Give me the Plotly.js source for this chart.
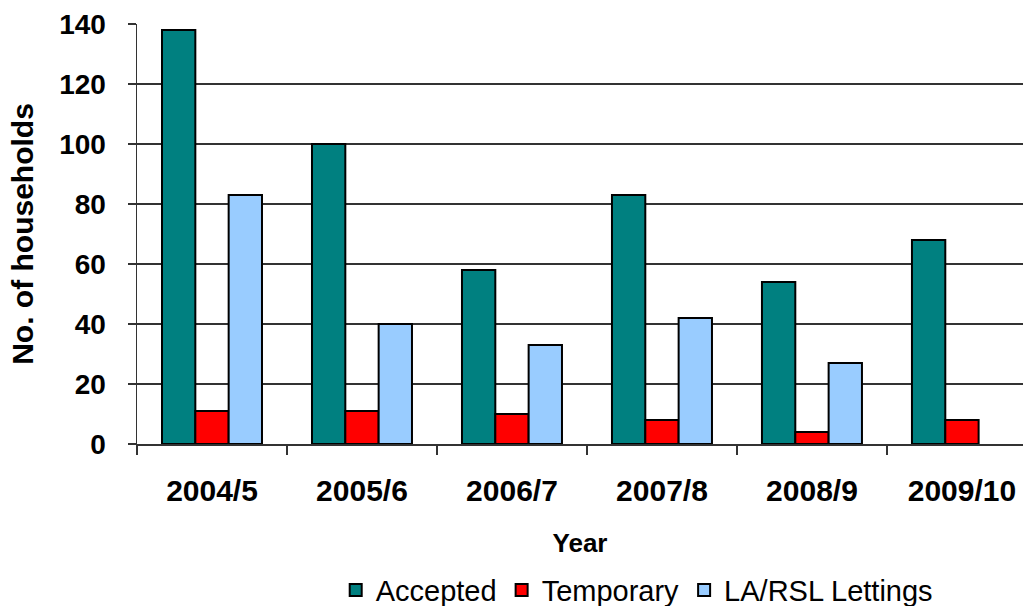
<!DOCTYPE html>
<html><head><meta charset="utf-8">
<script src="https://cdn.plot.ly/plotly-3.0.1.min.js"></script>
<style>html,body{margin:0;padding:0;background:#fff}#chart{width:1023px;height:606px}</style>
</head><body><div id="chart"></div>
<script>
const years = ["2004/5","2005/6","2006/7","2007/8","2008/9","2009/10"];
const accepted = [138,100,58,83,54,68];
const temporary = [11,11,10,8,4,8];
const lettings = [83,40,33,42,27,null];
const yTicks = [0,20,40,60,80,100,120,140];

const line = {color:'#000', width:2};
const traces = [
  {type:'bar', name:'Accepted', x:years, y:accepted, marker:{color:'#008080', line}},
  {type:'bar', name:'Temporary', x:years, y:temporary, marker:{color:'#ff0000', line}},
  {type:'bar', name:'LA/RSL Lettings', x:years, y:lettings, marker:{color:'#99ccff', line}}
];
const fam = '"Liberation Sans", Arial, sans-serif';
const layout = {
  width:1023, height:606,
  margin:{l:137, r:0, t:24, b:162, autoexpand:false},
  paper_bgcolor:'#fff', plot_bgcolor:'#fff',
  barmode:'group', bargap:1/3, bargroupgap:0,
  font:{family:fam, color:'#000'},
  showlegend:true,
  legend:{orientation:'h', x:0.564, xanchor:'center', y:-0.348, yanchor:'middle',
          font:{family:fam, size:29, color:'#000'}, itemwidth:30, tracegroupgap:0},
  xaxis:{
    range:[-0.5, 5.407], type:'category',
    showline:true, linecolor:'#333', linewidth:1.5,
    ticks:'outside', tickson:'boundaries', ticklen:9, tickcolor:'#333', tickwidth:1.5,
    ticklabelstandoff:19,
    tickfont:{family:fam, size:30, color:'#000', weight:'bold'},
    showgrid:false,
    title:{text:'<b>Year</b>', font:{family:fam, size:26, color:'#000'}, standoff:28}
  },
  yaxis:{
    range:[0,140], tickvals:yTicks, ticktext:yTicks.map(String),
    showline:true, linecolor:'#333', linewidth:1.5,
    ticks:'outside', ticklen:8, tickcolor:'#333', tickwidth:1.5,
    ticklabelstandoff:16,
    tickfont:{family:fam, size:28, color:'#000', weight:'bold'},
    showgrid:true, gridcolor:'#333', gridwidth:1.2,
    zeroline:false,
    title:{text:'<b>No. of households</b>', font:{family:fam, size:30, color:'#000'}, standoff:16}
  }
};
Plotly.newPlot('chart', traces, layout, {staticPlot:true, displayModeBar:false});
</script></body></html>
